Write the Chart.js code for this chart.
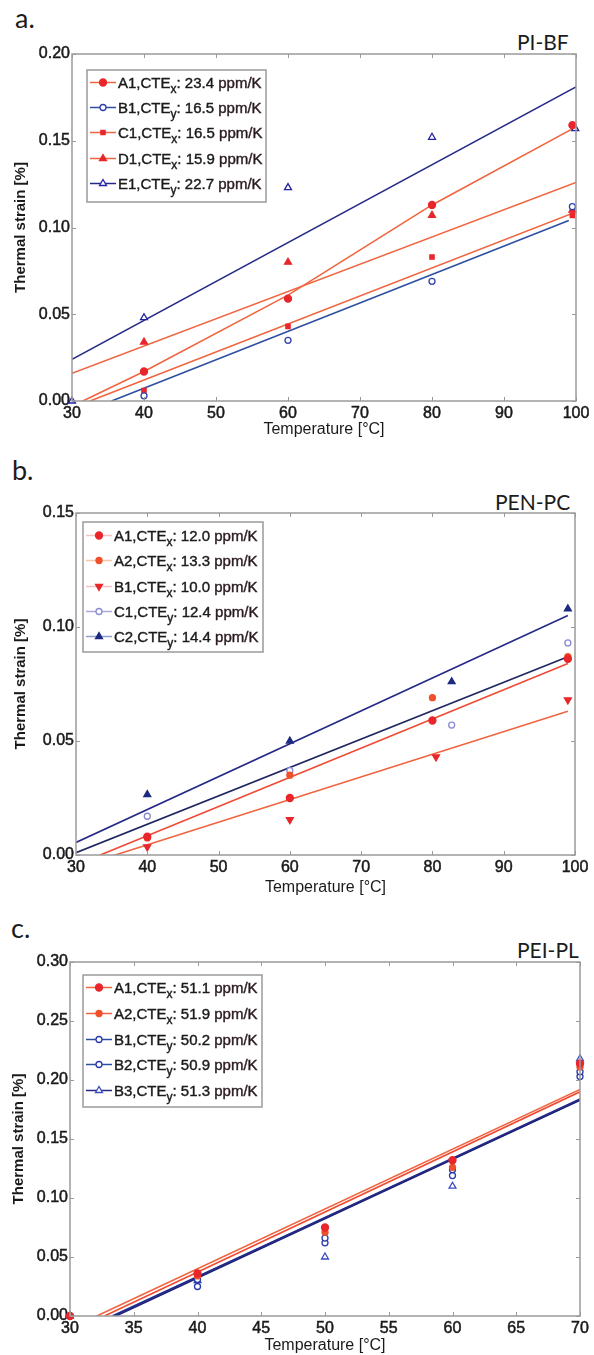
<!DOCTYPE html>
<html>
<head>
<meta charset="utf-8">
<script src="https://cdn.jsdelivr.net/npm/chart.js@4.4.1/dist/chart.umd.min.js"></script>
<style>
  body { margin: 0; background: #fff; width: 594px; height: 1355px; position: relative; overflow: hidden; }
  .panel { position: absolute; left: 0; width: 594px; }
  .tag { position: absolute; font-family: Lato, 'Open Sans', sans-serif; color: #1c1c1c; line-height: 1; white-space: nowrap; }
</style>
</head>
<body>
<div class="tag" style="left:15px;top:4px;font-size:27px">a.</div>
<div class="tag" style="left:517px;top:31px;font-size:21px">PI-BF</div>
<div class="tag" style="left:12px;top:456px;font-size:27px">b.</div>
<div class="tag" style="left:495px;top:491px;font-size:21px">PEN-PC</div>
<div class="tag" style="left:11px;top:914px;font-size:27px">c.</div>
<div class="tag" style="left:517px;top:939px;font-size:21px">PEI-PL</div>

<div class="panel" style="top:0;height:440px"><canvas id="chartA"></canvas></div>
<div class="panel" style="top:450px;height:450px"><canvas id="chartB"></canvas></div>
<div class="panel" style="top:900px;height:455px"><canvas id="chartC"></canvas></div>

<script>
// ---- a. PI-BF ----
var A_NAMES = ['A1', 'B1', 'C1', 'D1', 'E1'];
var A_DIRS = ['x', 'y', 'x', 'x', 'y'];
var A_CTE = [23.4, 16.5, 16.5, 15.9, 22.7];
var A_TEMP = [40, 60, 80, 99.5];
var A_A1 = [0.017, 0.059, 0.113, 0.159];
var A_B1 = [0.003, 0.035, 0.069, 0.112];
var A_C1 = [0.006, 0.043, 0.083, 0.107];
var A_D1 = [0.034, 0.080, 0.107, 0.110];
var A_E1_TEMP = [30, 40, 60, 80, 99.9];
var A_E1 = [0.000, 0.048, 0.123, 0.152, 0.157];
// fitted lines
var A_FIT_A1_T = [31.5, 40, 60, 80, 100];
var A_FIT_A1 = [0.000, 0.017, 0.061, 0.113, 0.158];
var A_FIT_B1_T = [35.5, 99];
var A_FIT_B1 = [0.000, 0.104];
var A_FIT_C1_T = [32.5, 100];
var A_FIT_C1 = [0.000, 0.109];
var A_FIT_D1_T = [30, 100];
var A_FIT_D1 = [0.016, 0.126];
var A_FIT_E1_T = [30, 100];
var A_FIT_E1 = [0.024, 0.181];

// ---- b. PEN-PC ----
var B_NAMES = ['A1', 'A2', 'B1', 'C1', 'C2'];
var B_DIRS = ['x', 'x', 'x', 'y', 'y'];
var B_CTE = [12.0, 13.3, 10.0, 12.4, 14.4];
var B_TEMP = [40, 60, 80, 99];
var B_A1 = [0.008, 0.025, 0.059, 0.086];
var B_A2 = [0.0075, 0.035, 0.069, 0.087];
var B_B1_TEMP = [40, 60, 80.5, 99];
var B_B1 = [0.0035, 0.0155, 0.043, 0.068];
var B_C_TEMP = [40, 60, 82.7, 99];
var B_C1 = [0.017, 0.037, 0.057, 0.093];
var B_C2 = [0.0265, 0.050, 0.076, 0.108];
var B_FIT_A2_T = [33.4, 99];
var B_FIT_A2 = [0.000, 0.084];
var B_FIT_B1_T = [35.5, 99];
var B_FIT_B1 = [0.000, 0.063];
var B_FIT_C1_T = [30, 99];
var B_FIT_C1 = [0.001, 0.087];
var B_FIT_C2_T = [30, 99];
var B_FIT_C2 = [0.0055, 0.105];

// ---- c. PEI-PL ----
var C_NAMES = ['A1', 'A2', 'B1', 'B2', 'B3'];
var C_DIRS = ['x', 'x', 'y', 'y', 'y'];
var C_CTE = [51.1, 51.9, 50.2, 50.9, 51.3];
var C_TEMP = [30, 40, 50, 60, 70];
var C_A1 = [0.000, 0.036, 0.075, 0.132, 0.214];
var C_A2 = [0.000, 0.034, 0.071, 0.126, 0.211];
var C_B1 = [0.000, 0.031, 0.066, 0.124, 0.207];
var C_B2 = [0.000, 0.025, 0.062, 0.119, 0.203];
var C_B3 = [0.000, 0.030, 0.050, 0.110, 0.218];
var C_FIT_A1_T = [32.1, 70];
var C_FIT_A1 = [0.000, 0.192];
var C_FIT_A2_T = [32.7, 70];
var C_FIT_A2 = [0.000, 0.190];
var C_FIT_B1_T = [33.4, 70];
var C_FIT_B1 = [0.000, 0.184];
var C_FIT_B2_T = [33.6, 70];
var C_FIT_B2 = [0.000, 0.183];
var C_FIT_B3_T = [33.3, 70];
var C_FIT_B3 = [0.000, 0.183];

var RED = '#e8262b';
var ORANGE = '#f0653f';
var NAVY = '#262a86';
var BLUE = '#2d4fa0';
var INK = '#1a1a1a';
var FONT = "'Liberation Sans', Arial, sans-serif";

Chart.defaults.font.family = FONT;
Chart.defaults.color = INK;
Chart.defaults.animation = false;

function pts(xs, ys) {
  return xs.map(function(x, i) { return {x: x, y: ys[i]}; });
}

function markers(xs, ys, style, fill, stroke, r, rot) {
  return {
    data: pts(xs, ys), showLine: false, order: 1, clip: false,
    pointStyle: style, pointRadius: r, pointRotation: rot || 0,
    pointBackgroundColor: fill, pointBorderColor: stroke, pointBorderWidth: 1.3
  };
}

function fit(xs, ys, color, w) {
  return {
    data: pts(xs, ys), showLine: true, order: 2, pointRadius: 0,
    borderColor: color, borderWidth: w || 1.6, fill: false
  };
}

var framePlugin = {
  id: 'frame',
  afterDatasetsDraw: function(chart) {
    var a = chart.chartArea, ctx = chart.ctx;
    var xs = chart.scales.x, ys = chart.scales.y;
    ctx.save();
    ctx.strokeStyle = '#9a9a9a';
    ctx.lineWidth = 1.5;
    ctx.strokeRect(a.left, a.top, a.right - a.left, a.bottom - a.top);
    ctx.lineWidth = 1;
    ctx.beginPath();
    xs.ticks.forEach(function(t) {
      var px = Math.round(xs.getPixelForValue(t.value)) + 0.5;
      ctx.moveTo(px, a.bottom); ctx.lineTo(px, a.bottom - 4);
      ctx.moveTo(px, a.top); ctx.lineTo(px, a.top + 4);
    });
    ys.ticks.forEach(function(t) {
      var py = Math.round(ys.getPixelForValue(t.value)) + 0.5;
      ctx.moveTo(a.left, py); ctx.lineTo(a.left + 4, py);
      ctx.moveTo(a.right, py); ctx.lineTo(a.right - 4, py);
    });
    ctx.stroke();
    ctx.restore();
  }
};

// draws text a little heavier, like the blurred print
function heavyText(ctx, s, x, y) {
  ctx.strokeText(s, x, y);
  ctx.fillText(s, x, y);
}

var boxLegend = {
  id: 'boxLegend',
  afterDraw: function(chart, args, o) {
    if (!o || !o.items) return;
    var a = chart.chartArea, ctx = chart.ctx;
    var x0 = a.left + o.dx, y0 = a.top + o.dy;
    ctx.save();
    ctx.fillStyle = '#fff';
    ctx.fillRect(x0, y0, o.w, o.h);
    ctx.strokeStyle = '#9a9a9a';
    ctx.lineWidth = 1.5;
    ctx.strokeRect(x0, y0, o.w, o.h);
    o.items.forEach(function(it, i) {
      var cy = Math.round(y0 + o.first + i * o.step) + 0.5;
      ctx.strokeStyle = it.line;
      ctx.lineWidth = 1.5;
      ctx.beginPath(); ctx.moveTo(x0 + 3, cy); ctx.lineTo(x0 + 29, cy); ctx.stroke();
      ctx.fillStyle = it.fill;
      ctx.strokeStyle = it.stroke;
      ctx.lineWidth = 1.3;
      Chart.helpers.drawPoint(ctx, {pointStyle: it.style, radius: it.r, rotation: it.rot || 0, borderWidth: 1.3}, x0 + 16, cy);
      ctx.fillStyle = INK;
      ctx.strokeStyle = INK;
      ctx.lineWidth = 0.4;
      ctx.textBaseline = 'alphabetic';
      ctx.textAlign = 'left';
      var base = cy + 5;
      var tx = x0 + 31;
      ctx.font = '15px ' + FONT;
      var t1 = it.name + ',CTE';
      heavyText(ctx, t1, tx, base);
      tx += ctx.measureText(t1).width;
      ctx.font = '12px ' + FONT;
      heavyText(ctx, it.dir, tx, base + 5);
      tx += ctx.measureText(it.dir).width;
      ctx.font = '15px ' + FONT;
      var t2 = ': ' + it.cte.toFixed(1) + ' ';
      heavyText(ctx, t2, tx, base);
      tx += ctx.measureText(t2).width;
      ctx.fillStyle = '#2a1a20';
      ctx.strokeStyle = '#2a1a20';
      heavyText(ctx, 'ppm/K', tx, base);
    });
    ctx.restore();
  }
};

function legendItems(names, dirs, ctes, looks) {
  return names.map(function(n, i) {
    var l = looks[i];
    return {name: n, dir: dirs[i], cte: ctes[i], line: l[0], style: l[1], fill: l[2], stroke: l[3], r: l[4], rot: l[5]};
  });
}

function makeChart(id, datasets, ax, legend) {
  return new Chart(document.getElementById(id), {
    type: 'scatter',
    data: {datasets: datasets},
    plugins: [framePlugin, boxLegend],
    options: {
      responsive: true,
      maintainAspectRatio: false,
      events: [],
      layout: {padding: {top: ax.padTop, right: ax.padRight, bottom: 0, left: 0}},
      plugins: {legend: {display: false}, tooltip: {enabled: false}, boxLegend: legend},
      scales: {
        x: {
          type: 'linear', min: ax.xMin, max: ax.xMax,
          ticks: {stepSize: ax.xStep, padding: 3, font: {size: 16}, color: INK, maxRotation: 0, autoSkip: false,
            textStrokeColor: INK, textStrokeWidth: 0.5},
          grid: {display: false, drawTicks: false},
          border: {display: false},
          title: {display: true, text: 'Temperature [°C]', font: {size: 16}, color: INK, padding: {top: 0, bottom: ax.xTitlePad}},
          afterFit: function(s) { s.height = ax.xHeight; }
        },
        y: {
          type: 'linear', min: ax.yMin, max: ax.yMax,
          ticks: {stepSize: ax.yStep, padding: 2, font: {size: 16}, color: INK, autoSkip: false,
            textStrokeColor: INK, textStrokeWidth: 0.5,
            callback: function(v) { return v.toFixed(2); }},
          grid: {display: false, drawTicks: false},
          border: {display: false},
          title: {display: true, text: 'Thermal strain [%]', font: {size: 15, weight: 'bold'}, color: INK, padding: {top: ax.yTitlePad, bottom: 0}},
          afterFit: function(s) { s.width = ax.yWidth; }
        }
      }
    }
  });
}

// panel a
makeChart('chartA', [
  fit(A_FIT_A1_T, A_FIT_A1, ORANGE),
  fit(A_FIT_B1_T, A_FIT_B1, BLUE),
  fit(A_FIT_C1_T, A_FIT_C1, ORANGE),
  fit(A_FIT_D1_T, A_FIT_D1, ORANGE),
  fit(A_FIT_E1_T, A_FIT_E1, NAVY),
  markers(A_TEMP, A_A1, 'circle', RED, RED, 3.5),
  markers(A_TEMP, A_B1, 'circle', '#fff', '#3040aa', 3),
  markers(A_TEMP, A_C1, 'rect', RED, RED, 3),
  markers(A_TEMP, A_D1, 'triangle', RED, RED, 4),
  markers(A_E1_TEMP, A_E1, 'triangle', '#fff', '#2222a0', 4)
], {xMin: 30, xMax: 100, xStep: 10, yMin: 0, yMax: 0.2, yStep: 0.05,
    padTop: 54, padRight: 18, xHeight: 39, yWidth: 72, xTitlePad: 1, yTitlePad: 12},
  {dx: 15, dy: 16, w: 179, h: 132, first: 12, step: 25.2,
   items: legendItems(A_NAMES, A_DIRS, A_CTE, [
     [ORANGE, 'circle', RED, RED, 3.5],
     [BLUE, 'circle', '#fff', '#3040aa', 3],
     [ORANGE, 'rect', RED, RED, 3],
     [ORANGE, 'triangle', RED, RED, 4],
     [NAVY, 'triangle', '#fff', '#2222a0', 4]
   ])});

// panel b
makeChart('chartB', [
  fit(B_FIT_A2_T, B_FIT_A2, '#ee4a35'),
  fit(B_FIT_B1_T, B_FIT_B1, ORANGE),
  fit(B_FIT_C1_T, B_FIT_C1, '#1f2660'),
  fit(B_FIT_C2_T, B_FIT_C2, NAVY),
  markers(B_TEMP, B_A1, 'circle', RED, RED, 3.5),
  markers(B_TEMP, B_A2, 'circle', '#f0502a', '#f0502a', 3),
  markers(B_B1_TEMP, B_B1, 'triangle', RED, RED, 4, 180),
  markers(B_C_TEMP, B_C1, 'circle', '#fff', '#8a8ad0', 3),
  markers(B_C_TEMP, B_C2, 'triangle', '#1c2a80', '#1c2a80', 4)
], {xMin: 30, xMax: 100, xStep: 10, yMin: 0, yMax: 0.15, yStep: 0.05,
    padTop: 63, padRight: 19, xHeight: 45, yWidth: 76, xTitlePad: 3, yTitlePad: 12},
  {dx: 7, dy: 9, w: 180, h: 130, first: 13, step: 25.3,
   items: legendItems(B_NAMES, B_DIRS, B_CTE, [
     ['#f8c0c0', 'circle', RED, RED, 3.5],
     ['#f8c4a8', 'circle', '#f0502a', '#f0502a', 3],
     ['#f8c0c0', 'triangle', RED, RED, 4, 180],
     ['#a8a8dc', 'circle', '#fff', '#8a8ad0', 3],
     ['#8fa0cc', 'triangle', '#1c2a80', '#1c2a80', 4]
   ])});

// panel c
makeChart('chartC', [
  fit(C_FIT_A1_T, C_FIT_A1, ORANGE),
  fit(C_FIT_A2_T, C_FIT_A2, '#f04a30'),
  fit(C_FIT_B1_T, C_FIT_B1, NAVY),
  fit(C_FIT_B2_T, C_FIT_B2, '#1c2378'),
  fit(C_FIT_B3_T, C_FIT_B3, BLUE),
  markers(C_TEMP, C_A1, 'circle', RED, RED, 3.5),
  markers(C_TEMP, C_A2, 'circle', '#f0502a', '#f0502a', 3),
  markers(C_TEMP, C_B1, 'circle', '#fff', '#2a3aa8', 3),
  markers(C_TEMP, C_B2, 'circle', '#fff', '#2a3aa8', 3),
  markers(C_TEMP, C_B3, 'triangle', '#fff', '#3a4ac0', 4)
], {xMin: 30, xMax: 70, xStep: 5, yMin: 0, yMax: 0.3, yStep: 0.05,
    padTop: 62, padRight: 14, xHeight: 39, yWidth: 70, xTitlePad: 0, yTitlePad: 10},
  {dx: 13, dy: 13, w: 179, h: 132, first: 12, step: 25.75,
   items: legendItems(C_NAMES, C_DIRS, C_CTE, [
     [ORANGE, 'circle', RED, RED, 3.5],
     ['#f0653f', 'circle', '#f0502a', '#f0502a', 3],
     [BLUE, 'circle', '#fff', '#2a3aa8', 3],
     [BLUE, 'circle', '#fff', '#2a3aa8', 3],
     [NAVY, 'triangle', '#fff', '#3a4ac0', 4]
   ])});
</script>
</body>
</html>
